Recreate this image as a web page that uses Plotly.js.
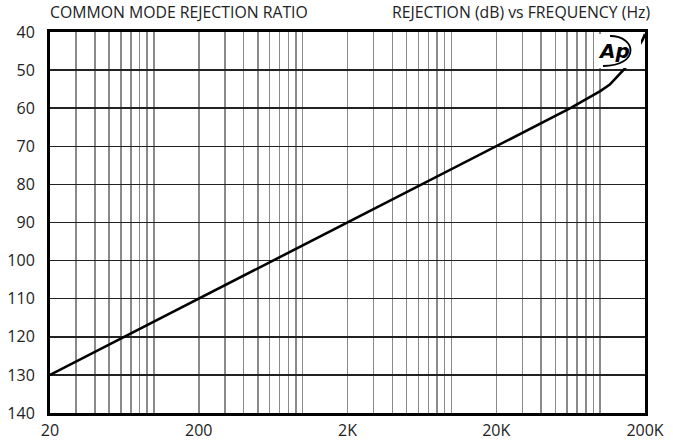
<!DOCTYPE html>
<html><head><meta charset="utf-8">
<script src="https://cdn.plot.ly/plotly-3.0.1.min.js"></script>
<style>html,body{margin:0;padding:0;background:#fff}#chart{width:673px;height:444px}</style>
</head><body><div id="chart"></div>
<script>
// Data
const freqHz = [20, 200, 2000, 20000, 63000, 100000, 116000, 147000, 170000, 193000, 200000];
const rejectionDb = [130, 110, 90, 70, 60, 55.5, 53.8, 49.5, 45.5, 42, 40.5];
const majorTicks = [20, 200, 2000, 20000, 200000];
const majorTickText = ['20', '200', '2K', '20K', '200K'];
const minorTicks = [30, 40, 50, 60, 70, 80, 90, 100,
  300, 400, 500, 600, 700, 800, 900, 1000,
  3000, 4000, 5000, 6000, 7000, 8000, 9000, 10000,
  30000, 40000, 50000, 60000, 70000, 80000, 90000, 100000];
const yTicks = [40, 50, 60, 70, 80, 90, 100, 110, 120, 130, 140];
const titleLeft = 'COMMON MODE REJECTION RATIO';
const titleRight = 'REJECTION (dB) vs FREQUENCY (Hz)';

// plot area geometry (pixels)
const W = 673, H = 444, L = 50, R = 645, T = 32, B = 413;
const px = x => (x - L) / (R - L);
const py = y => (B - y) / (B - T);

const trace = {
  x: freqHz, y: rejectionDb, type: 'scatter', mode: 'lines',
  line: {color: '#000', width: 2.6},
  hoverinfo: 'skip'
};

const font = {family: 'Open Sans, Noto Sans, sans-serif', color: '#222'};

const layout = {
  width: W, height: H,
  margin: {l: L, r: W - R, t: T, b: H - B, pad: 0},
  paper_bgcolor: '#fff', plot_bgcolor: '#fff',
  showlegend: false,
  xaxis: {
    type: 'log', range: [Math.log10(20), Math.log10(200000)],
    tickmode: 'array', tickvals: majorTicks, ticktext: majorTickText,
    showgrid: true, gridcolor: '#8a8a8a', gridwidth: 1.5,
    minor: {tickmode: 'array', tickvals: minorTicks, showgrid: true, gridcolor: '#8a8a8a', gridwidth: 1.5, ticks: ''},
    showline: true, linecolor: '#000', linewidth: 3, mirror: true,
    ticks: '', zeroline: false,
    tickfont: Object.assign({size: 16}, font),
    ticklabelstandoff: 1
  },
  yaxis: {
    range: [140, 40], tickmode: 'array', tickvals: yTicks,
    showgrid: true, gridcolor: '#222', gridwidth: 1.5,
    showline: true, linecolor: '#000', linewidth: 3, mirror: true,
    ticks: '', zeroline: false,
    tickfont: Object.assign({size: 16}, font),
    ticklabelstandoff: 9
  },
  shapes: [
    {type: 'rect', xref: 'paper', yref: 'paper', x0: px(595), x1: px(641), y0: py(68), y1: py(34),
     fillcolor: '#fff', line: {width: 0}, layer: 'above'},
    {type: 'path', xref: 'paper', yref: 'paper', layer: 'above',
     path: `M ${px(610)},${py(36)} C ${px(637)},${py(36)} ${px(640)},${py(66)} ${px(603)},${py(66)}`,
     line: {color: '#000', width: 1.8}}
  ],
  annotations: [
    {xref: 'paper', yref: 'paper', x: px(48), y: py(12), xanchor: 'left', yanchor: 'middle',
     text: titleLeft, showarrow: false, font: Object.assign({size: 15.8}, font)},
    {xref: 'paper', yref: 'paper', x: px(652), y: py(12), xanchor: 'right', yanchor: 'middle',
     text: titleRight, showarrow: false, font: Object.assign({size: 15.8}, font)},
    {xref: 'paper', yref: 'paper', x: px(614), y: py(51), xanchor: 'center', yanchor: 'middle',
     text: '<b><i>Ap</i></b>', showarrow: false,
     font: {family: 'DejaVu Sans, sans-serif', size: 20, color: '#000'}}
  ]
};

Plotly.newPlot('chart', [trace], layout, {displayModeBar: false, staticPlot: true});
</script>
</body></html>
